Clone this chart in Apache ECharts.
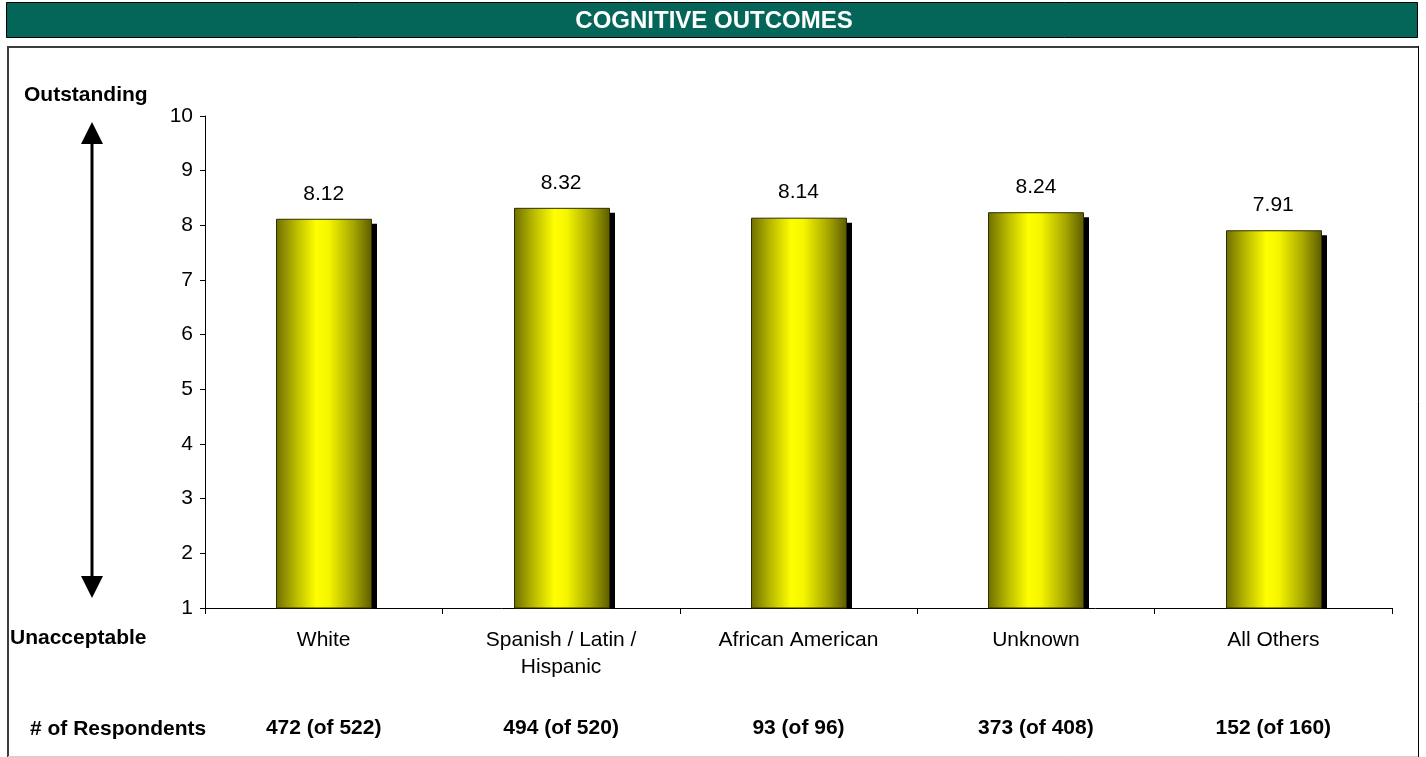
<!DOCTYPE html>
<html>
<head>
<meta charset="utf-8">
<title>Cognitive Outcomes</title>
<script src="https://cdn.jsdelivr.net/npm/echarts@6/dist/echarts.min.js"></script>
<style>
  html, body { margin: 0; padding: 0; background: #ffffff; }
  #chart { width: 1426px; height: 757px; }
</style>
</head>
<body>
<div id="chart"></div>
<script>
// Mean rating per group (scale 1 = Unacceptable, 10 = Outstanding)
const categories = ['White', 'Spanish / Latin /\nHispanic', 'African American', 'Unknown', 'All Others'];
const scores = [8.12, 8.32, 8.14, 8.24, 7.91];
const respondents = ['472 (of 522)', '494 (of 520)', '93 (of 96)', '373 (of 408)', '152 (of 160)'];
const yTicks = [1, 2, 3, 4, 5, 6, 7, 8, 9, 10];

const FONT = '"Liberation Sans", Arial, sans-serif';
const FS = 21;

const chart = echarts.init(document.getElementById('chart'), null, { renderer: 'canvas' });

// Cylinder-like horizontal shading of each bar
const barFill = new echarts.graphic.LinearGradient(0, 0, 1, 0, [
  { offset: 0, color: '#6e6e00' },
  { offset: 0.2, color: '#b8b800' },
  { offset: 0.42, color: '#ffff00' },
  { offset: 0.55, color: '#f5f500' },
  { offset: 0.8, color: '#a8a800' },
  { offset: 1, color: '#5c5c00' }
]);

function renderBar(params, api) {
  const idx = api.value(0);
  const val = api.value(1);
  const top = api.coord([idx, val]);
  const base = api.coord([idx, yTicks[0]]);
  const bandW = api.size([1, 0])[0];
  const w = Math.round(bandW * 0.4);
  const x = Math.round(top[0] - w / 2);
  const y = top[1];
  const h = base[1] - y;
  const dx = 6, dy = 5;
  return {
    type: 'group',
    children: [
      { // drop shadow, cut off at the axis line
        type: 'rect',
        shape: { x: x + dx, y: y + dy, width: w, height: h - dy },
        style: { fill: '#000000' }
      },
      {
        type: 'rect',
        shape: { x: x + 0.5, y: y + 0.5, width: w, height: h - 0.5 },
        style: { fill: barFill, stroke: '#2e2e00', lineWidth: 1 }
      },
      {
        type: 'text',
        x: top[0],
        y: y - 25,
        style: {
          text: val.toFixed(2),
          fill: '#000000',
          font: FS + 'px ' + FONT,
          align: 'center',
          verticalAlign: 'middle'
        }
      }
    ]
  };
}

const option = {
  animation: false,
  backgroundColor: '#ffffff',
  grid: { left: 205, right: 34, top: 116, bottom: 149, containLabel: false },
  xAxis: [
    {
      type: 'category',
      data: categories,
      boundaryGap: true,
      axisLine: { lineStyle: { color: '#000000', width: 1 } },
      axisTick: { show: true, length: 6, lineStyle: { color: '#000000' }, alignWithLabel: false },
      axisLabel: {
        color: '#000000',
        fontFamily: FONT,
        fontSize: FS,
        lineHeight: 27,
        margin: 19,
        interval: 0
      }
    },
    {
      type: 'category',
      data: respondents,
      position: 'bottom',
      offset: 100,
      axisLine: { show: false },
      axisTick: { show: false },
      axisLabel: {
        color: '#000000',
        fontFamily: FONT,
        fontSize: FS,
        fontWeight: 'bold',
        lineHeight: 21,
        margin: 10,
        interval: 0
      }
    }
  ],
  yAxis: {
    type: 'value',
    min: yTicks[0],
    max: yTicks[yTicks.length - 1],
    interval: 1,
    splitLine: { show: false },
    axisLine: { show: true, lineStyle: { color: '#000000', width: 1 } },
    axisTick: { show: true, length: 5, lineStyle: { color: '#000000' } },
    axisLabel: {
      color: '#000000',
      fontFamily: FONT,
      fontSize: FS,
      margin: 12
    }
  },
  series: [
    {
      type: 'custom',
      xAxisIndex: 0,
      renderItem: renderBar,
      encode: { x: 0, y: 1 },
      data: scores.map((v, i) => [i, v]),
      z: 2
    }
  ],
  graphic: [
    // Title banner
    {
      type: 'rect',
      shape: { x: 6.5, y: 2.5, width: 1411, height: 35 },
      style: { fill: '#046658', stroke: '#000000', lineWidth: 1 },
      z: 1
    },
    {
      type: 'text',
      x: 714, y: 21,
      style: {
        text: 'COGNITIVE OUTCOMES',
        fill: '#ffffff',
        font: 'bold 24px ' + FONT,
        align: 'center',
        verticalAlign: 'middle'
      },
      z: 2
    },
    // Chart frame
    {
      type: 'polyline',
      shape: { points: [[8, 757], [8, 47], [1418, 47]] },
      style: { stroke: '#3c3c3c', lineWidth: 2, fill: null },
      z: 1
    },
    {
      type: 'line',
      shape: { x1: 1418.5, y1: 46, x2: 1418.5, y2: 757 },
      style: { stroke: '#000000', lineWidth: 1 },
      z: 1
    },
    {
      type: 'line',
      shape: { x1: 8, y1: 756.5, x2: 1418, y2: 756.5 },
      style: { stroke: '#d0d0d0', lineWidth: 1 },
      z: 1
    },
    // Scale direction arrow
    {
      type: 'line',
      shape: { x1: 92, y1: 138, x2: 92, y2: 582 },
      style: { stroke: '#000000', lineWidth: 3 },
      z: 1
    },
    {
      type: 'polygon',
      shape: { points: [[92, 122], [81, 144], [103, 144]] },
      style: { fill: '#000000' },
      z: 1
    },
    {
      type: 'polygon',
      shape: { points: [[92, 598], [81, 576], [103, 576]] },
      style: { fill: '#000000' },
      z: 1
    },
    // Scale end captions and respondent row caption
    {
      type: 'text', x: 24, y: 95,
      style: { text: 'Outstanding', fill: '#000000', font: 'bold ' + FS + 'px ' + FONT, verticalAlign: 'middle' },
      z: 1
    },
    {
      type: 'text', x: 10, y: 638,
      style: { text: 'Unacceptable', fill: '#000000', font: 'bold ' + FS + 'px ' + FONT, verticalAlign: 'middle' },
      z: 1
    },
    {
      type: 'text', x: 30, y: 729,
      style: { text: '# of Respondents', fill: '#000000', font: 'bold ' + FS + 'px ' + FONT, verticalAlign: 'middle' },
      z: 1
    }
  ]
};

chart.setOption(option);
</script>
</body>
</html>
